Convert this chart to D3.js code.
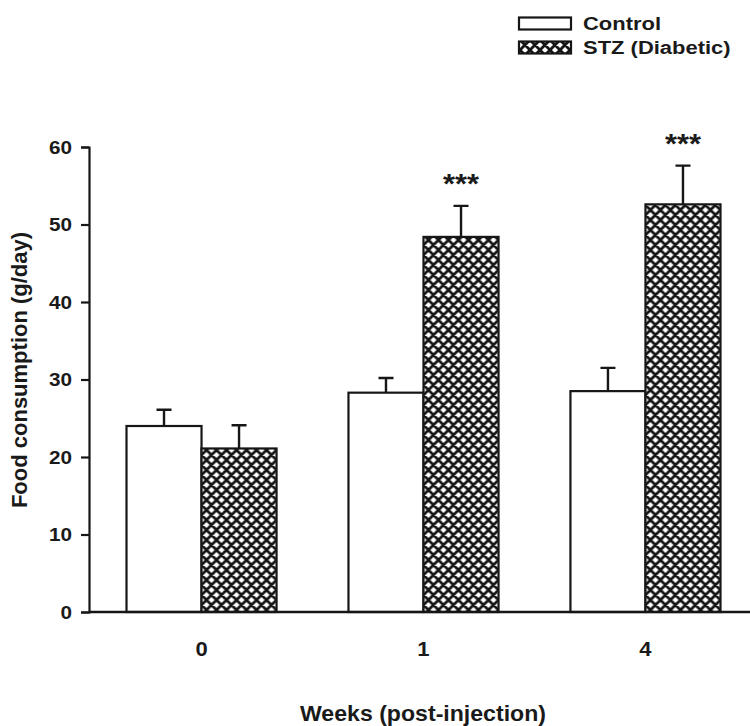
<!DOCTYPE html>
<html>
<head>
<meta charset="utf-8">
<script src="https://cdn.jsdelivr.net/npm/d3@7"></script>
<style>
  html, body { margin: 0; padding: 0; background: #fff; }
  svg { display: block; }
  text { font-family: "Liberation Sans", Arial, sans-serif; font-weight: bold; fill: #1a1a1a; }
</style>
</head>
<body>
<svg id="chart" width="750" height="726"></svg>
<script>
// Food consumption (g/day), mean with SEM, by weeks after injection
const weeks = ["0", "1", "4"];
const seriesNames = ["Control", "STZ (Diabetic)"];
const controlMean = [24.0, 28.3, 28.5];
const controlSem = [2.1, 1.9, 3.0];
const stzMean = [21.1, 48.4, 52.6];
const stzSem = [3.0, 4.0, 5.0];
const significance = ["", "***", "***"];
const yTicks = [0, 10, 20, 30, 40, 50, 60];

const rows = weeks.map((w, i) => ({
  week: w,
  sig: significance[i],
  bars: [
    { series: seriesNames[0], mean: controlMean[i], sem: controlSem[i] },
    { series: seriesNames[1], mean: stzMean[i], sem: stzSem[i] }
  ]
}));

const ink = "#161616";
const svg = d3.select("#chart");

// Diamond cross-hatch used for the diabetic group
const P = 10;
const defs = svg.append("defs");
const pat = defs.append("pattern")
  .attr("id", "crosshatch")
  .attr("patternUnits", "userSpaceOnUse")
  .attr("width", P).attr("height", P);
pat.append("rect").attr("width", P).attr("height", P).attr("fill", "#fff");
pat.append("path")
  .attr("d", `M-2,2 L2,-2 M0,${P} L${P},0 M${P - 2},${P + 2} L${P + 2},${P - 2}` +
             ` M-2,${P - 2} L2,${P + 2} M0,0 L${P},${P} M${P - 2},-2 L${P + 2},2`)
  .attr("stroke", ink).attr("stroke-width", 2.8).attr("fill", "none");

const fills = { "Control": "#fff", "STZ (Diabetic)": "url(#crosshatch)" };

// Horizontal glyph stretch to give the wide bold lettering
function stretch(sel, sx) {
  sel.each(function () {
    const len = this.getComputedTextLength();
    d3.select(this).attr("textLength", len * sx).attr("lengthAdjust", "spacingAndGlyphs");
  });
}

const x0 = d3.scaleBand().domain(weeks).range([126.5, 720.5]).paddingInner(0.324).paddingOuter(0);
const x1 = d3.scaleBand().domain(seriesNames).range([0, x0.bandwidth()]).padding(0);
const y = d3.scaleLinear().domain([0, 60]).range([612, 147]);

const axisLeftX = 89;

// Y axis
const yAxis = svg.append("g")
  .attr("transform", `translate(${axisLeftX},0)`)
  .call(d3.axisLeft(y).tickValues(yTicks).tickSize(8).tickPadding(9).tickFormat(d3.format("d")));
yAxis.select(".domain").attr("stroke", ink).attr("stroke-width", 2.2);
yAxis.selectAll(".tick line").attr("stroke", ink).attr("stroke-width", 2.2);
yAxis.selectAll(".tick text").attr("font-size", 18).attr("fill", "#1a1a1a")
  .style("font-family", "'Liberation Sans', Arial, sans-serif").style("font-weight", "bold")
  .attr("dy", "0.36em");
stretch(yAxis.selectAll(".tick text"), 1.15);

// Bars
const groups = svg.append("g").selectAll("g")
  .data(rows).join("g")
  .attr("transform", d => `translate(${x0(d.week)},0)`);

groups.selectAll("rect")
  .data(d => d.bars).join("rect")
  .attr("x", d => x1(d.series))
  .attr("y", d => y(d.mean))
  .attr("width", x1.bandwidth())
  .attr("height", d => y(0) - y(d.mean))
  .attr("fill", d => fills[d.series])
  .attr("stroke", ink).attr("stroke-width", 2.2);

// Error bars (upper half only)
const capHalf = 7.5;
groups.selectAll("path.err")
  .data(d => d.bars).join("path")
  .attr("class", "err")
  .attr("d", d => {
    const cx = x1(d.series) + x1.bandwidth() / 2;
    const top = y(d.mean + d.sem);
    return `M${cx},${y(d.mean)}V${top}M${cx - capHalf},${top}H${cx + capHalf}`;
  })
  .attr("stroke", ink).attr("stroke-width", 2.4).attr("fill", "none");

// Significance stars above the diabetic bar
const stars = groups.filter(d => d.sig).append("text")
  .attr("x", d => x1(seriesNames[1]) + x1.bandwidth() / 2)
  .attr("y", d => y(d.bars[1].mean + d.bars[1].sem) - 25 + 0.44 * 28)
  .attr("text-anchor", "middle")
  .attr("font-size", 28)
  .text(d => d.sig);
stretch(stars, 1.1);

// X axis baseline
svg.append("line")
  .attr("x1", axisLeftX).attr("x2", 750)
  .attr("y1", y(0)).attr("y2", y(0))
  .attr("stroke", ink).attr("stroke-width", 2.4);

// X category labels
const xl = svg.append("g").selectAll("text")
  .data(weeks).join("text")
  .attr("x", d => x0(d) + x0.bandwidth() / 2)
  .attr("y", 656)
  .attr("text-anchor", "middle")
  .attr("font-size", 20)
  .text(d => d);
stretch(xl, 1.1);

// Axis titles
const xt = svg.append("text")
  .attr("x", 423).attr("y", 721)
  .attr("text-anchor", "middle")
  .attr("font-size", 22)
  .text("Weeks (post-injection)");
stretch(xt, 1.05);

svg.append("text")
  .attr("transform", "translate(27,370) rotate(-90)")
  .attr("text-anchor", "middle")
  .attr("font-size", 22)
  .text("Food consumption (g/day)");

// Legend
const legend = svg.append("g");
const legendRows = [
  { name: seriesNames[0], boxY: 17.5, textY: 30 },
  { name: seriesNames[1], boxY: 41.5, textY: 54 }
];
legend.selectAll("rect").data(legendRows).join("rect")
  .attr("x", 519).attr("y", d => d.boxY)
  .attr("width", 52).attr("height", 12)
  .attr("fill", d => fills[d.name])
  .attr("stroke", ink).attr("stroke-width", 2.2);
const lt = legend.selectAll("text").data(legendRows).join("text")
  .attr("x", 583).attr("y", d => d.textY)
  .attr("font-size", 18)
  .text(d => d.name);
stretch(lt, 1.22);
</script>
</body>
</html>
